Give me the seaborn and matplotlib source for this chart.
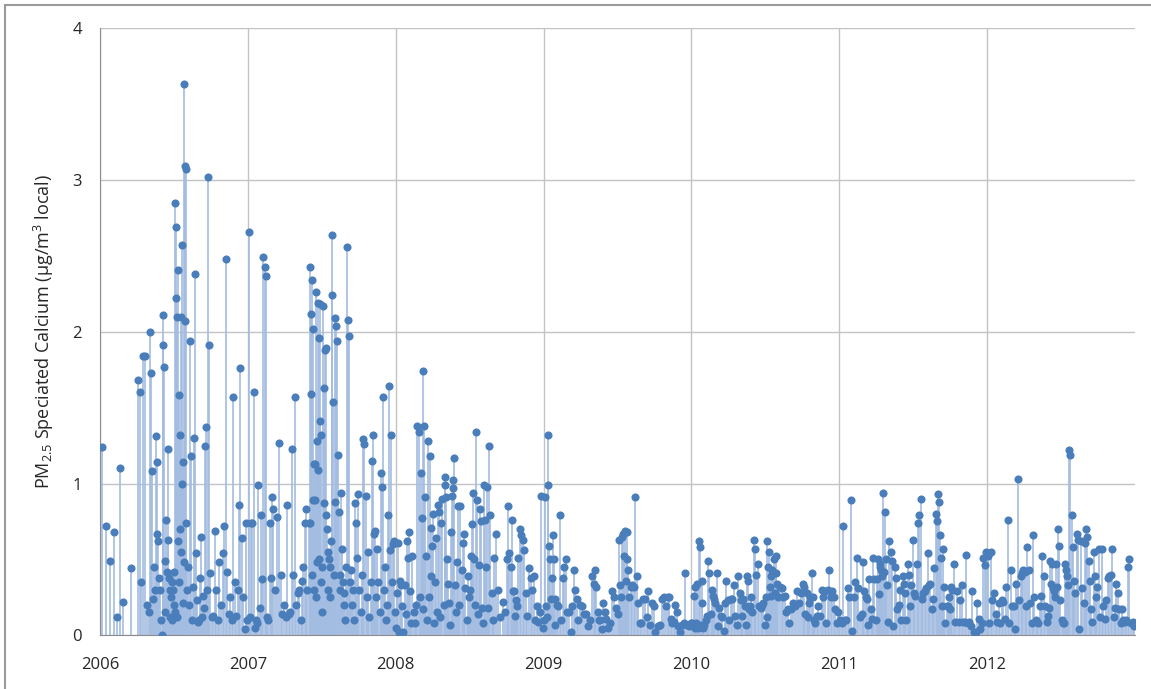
import numpy as np
import pandas as pd
import matplotlib
matplotlib.use("Agg")
import matplotlib.pyplot as plt
from matplotlib.patches import Rectangle
import seaborn as sns

# PM2.5 speciated calcium (ug/m3 local).
# one inner list per month, samples in time order within the month
ca_2006 = [
    [1.24, 0.72, 0.49],
    [0.68, 0.12, 1.10, 0.22],
    [0.44],
    [1.68, 1.60, 0.35, 1.84, 1.84, 0.20, 0.15],
    [2.00, 1.73, 1.08, 0.24, 0.45, 0.30, 1.31, 1.14, 0.67, 0.62, 0.38, 0.30, 0.10],
    [0.00, 2.11, 1.91, 1.77, 0.15, 0.49, 0.76, 0.42, 1.23, 0.63, 0.38, 0.30, 0.12, 0.25, 0.35, 0.10, 0.30, 0.20],
    [0.42, 0.15, 2.85, 2.69, 2.22, 0.12, 2.10, 2.41, 0.62, 0.35, 1.58, 1.32, 0.70, 2.10, 0.55, 1.00, 2.57, 0.21,
     1.14, 0.48, 3.63, 3.09, 2.07, 3.07, 0.74],
    [0.30, 0.45, 0.20, 1.94, 1.18, 0.10, 0.32, 1.30, 2.38, 0.54, 0.23, 0.09],
    [0.10, 0.38, 0.65, 0.12, 0.26, 0.18, 1.25, 1.37, 0.30, 3.02, 1.91, 0.41],
    [0.12, 0.13, 0.69, 0.30, 0.10, 0.48, 0.20, 0.54],
    [0.72, 2.48, 0.42, 0.14, 0.25, 0.10, 1.57, 0.35],
    [0.13, 0.30, 0.86, 1.76, 0.64, 0.25, 0.04, 0.74, 0.10],
]

ca_2007 = [
    [2.66, 0.12, 0.74, 0.74, 1.60, 0.05, 0.10, 0.08, 0.99, 0.18],
    [0.79, 0.37, 2.49, 2.43, 2.37, 0.12, 0.10, 0.74, 0.38, 0.91],
    [0.83, 0.30, 0.78, 1.27, 0.40, 0.14, 0.20],
    [0.12, 0.86, 0.14, 0.15, 1.23, 0.40, 1.57, 0.20],
    [0.28, 0.30, 0.10, 0.36, 0.45, 0.74, 0.83, 0.30, 0.74],
    [2.43, 0.74, 2.12, 1.59, 0.40, 2.34, 0.89, 2.02, 1.13, 0.30, 0.89, 1.13, 0.25, 2.26, 1.28, 0.48, 2.19, 1.09,
     1.96, 0.50, 1.41, 2.18, 0.35, 1.32, 0.15],
    [0.45, 2.17, 0.87, 1.63, 1.88, 0.79, 1.89, 0.70, 0.55, 0.30, 0.50, 0.25, 0.45, 0.62, 2.64, 2.24, 1.54, 0.40],
    [0.88, 2.09, 2.04, 1.94, 1.19, 0.81, 0.40, 0.30, 0.94, 0.57, 0.35, 0.20, 0.28, 0.10, 0.45],
    [2.56, 2.08, 1.97, 0.35, 0.43, 0.20, 0.30, 0.10, 0.87, 0.74, 0.51, 0.93],
    [0.30, 0.15, 0.40, 1.29, 1.26, 0.92, 0.25, 0.55, 0.12, 0.35],
    [1.15, 1.32, 0.67, 0.69, 0.25, 0.57, 0.35, 0.15, 1.07, 0.98, 1.57],
    [0.30, 0.45, 0.10, 0.20, 0.79, 1.64, 0.56, 1.32, 0.35, 0.60, 0.62, 0.15],
]

ca_2008 = [
    [0.05, 0.28, 0.61, 0.02, 0.36, 0.33, 0.19, 0.02, 0.33, 0.14, 0.62, 0.51],
    [0.68, 0.29, 0.08, 0.52, 0.15, 0.08, 0.20, 1.38, 1.34, 0.25],
    [1.07, 0.77, 0.17, 1.74, 1.38, 0.91, 0.52, 0.10, 1.28, 0.25, 1.18, 0.71, 0.39, 0.59],
    [0.80, 0.08, 0.35, 0.64, 0.15, 0.86, 0.81, 0.12, 0.74, 0.90, 0.20, 1.04],
    [0.99, 0.91, 0.50, 0.34, 0.21, 0.07, 0.68, 0.92, 1.02, 0.97, 1.17, 0.33, 0.15, 0.48],
    [0.85, 0.20, 0.85, 0.43, 0.61, 0.67, 0.31, 0.10, 0.39, 0.25],
    [0.30, 0.52, 0.73, 0.94, 0.50, 0.20, 1.34, 0.89, 0.14, 0.46, 0.83, 0.75, 0.18],
    [0.08, 0.99, 0.76, 0.45, 0.98, 0.18, 1.25, 0.79, 0.28, 0.10, 0.51],
    [0.67, 0.30, 0.12, 0.22, 0.15],
    [0.50, 0.85, 0.54, 0.45, 0.76, 0.29, 0.29, 0.13, 0.23, 0.19, 0.51],
    [0.70, 0.66, 0.63, 0.56, 0.28, 0.13, 0.44, 0.38],
    [0.30, 0.39, 0.10, 0.19, 0.09, 0.15, 0.92, 0.05],
]

ca_2009 = [
    [0.10, 0.91, 0.19, 0.12, 1.32, 0.99, 0.59, 0.50, 0.24, 0.38, 0.66, 0.50, 0.24, 0.07],
    [0.20, 0.19, 0.79, 0.10, 0.38, 0.45, 0.50, 0.15],
    [0.15, 0.02, 0.19, 0.43, 0.30, 0.24, 0.10, 0.20],
    [0.19, 0.14, 0.14, 0.06, 0.10, 0.39],
    [0.34, 0.43, 0.32, 0.15, 0.10, 0.10, 0.04, 0.21, 0.15],
    [0.11, 0.05, 0.08, 0.29, 0.25, 0.18],
    [0.14, 0.63, 0.33, 0.25, 0.65, 0.67, 0.52, 0.69, 0.36, 0.68, 0.50, 0.43, 0.25],
    [0.32, 0.33, 0.32, 0.91, 0.39, 0.21, 0.08, 0.08],
    [0.24, 0.24, 0.12, 0.29, 0.07, 0.21, 0.19],
    [0.02, 0.06, 0.07, 0.24, 0.25, 0.19],
    [0.25, 0.25, 0.11, 0.08, 0.09, 0.20, 0.15, 0.06],
    [0.02, 0.07, 0.08, 0.41, 0.07, 0.06, 0.08],
]

ca_2010 = [
    [0.08, 0.06, 0.26, 0.05, 0.32, 0.08, 0.34, 0.05, 0.62, 0.58, 0.07, 0.36, 0.21, 0.05],
    [0.07, 0.10, 0.13, 0.49, 0.41, 0.14, 0.30, 0.26, 0.24, 0.21],
    [0.41, 0.06, 0.18, 0.13, 0.12, 0.03, 0.21, 0.36, 0.23],
    [0.10, 0.24, 0.24, 0.33, 0.13, 0.07, 0.39, 0.28],
    [0.23, 0.13, 0.24, 0.19, 0.07, 0.39, 0.36, 0.17, 0.19, 0.25, 0.15],
    [0.63, 0.57, 0.40, 0.47, 0.19, 0.18, 0.20, 0.21, 0.07],
    [0.25, 0.12, 0.62, 0.45, 0.55, 0.32, 0.39, 0.26, 0.43, 0.41, 0.50, 0.28, 0.52, 0.41, 0.34],
    [0.25, 0.32, 0.31, 0.25, 0.26, 0.15, 0.17, 0.08],
    [0.17, 0.21, 0.19, 0.29, 0.21, 0.28],
    [0.34, 0.32, 0.14, 0.28, 0.12, 0.21, 0.25, 0.41, 0.25, 0.10],
    [0.08, 0.13, 0.19, 0.13, 0.30, 0.25, 0.29, 0.08],
    [0.30, 0.43, 0.25, 0.29, 0.25, 0.17, 0.08, 0.15],
]

ca_2011 = [
    [0.10, 0.08, 0.72, 0.10, 0.10, 0.31, 0.25, 0.89],
    [0.03, 0.25, 0.35, 0.51, 0.31, 0.12, 0.14, 0.48],
    [0.29, 0.25, 0.24, 0.07, 0.37, 0.17, 0.11, 0.51, 0.37, 0.10],
    [0.37, 0.50, 0.27, 0.47, 0.45, 0.43, 0.39, 0.94, 0.42, 0.81, 0.50, 0.33, 0.09],
    [0.62, 0.55, 0.49, 0.06, 0.45, 0.38, 0.17, 0.20, 0.30],
    [0.10, 0.39, 0.34, 0.28, 0.10, 0.47, 0.40, 0.19, 0.33, 0.63],
    [0.28, 0.26, 0.47, 0.74, 0.79, 0.90, 0.24, 0.28, 0.29],
    [0.31, 0.54, 0.33, 0.34, 0.17, 0.24, 0.44, 0.80, 0.75],
    [0.93, 0.88, 0.66, 0.51, 0.19, 0.57, 0.32, 0.08, 0.19, 0.19, 0.25, 0.17],
    [0.32, 0.30, 0.47, 0.09, 0.29, 0.09, 0.23, 0.33],
    [0.09, 0.09, 0.53, 0.08, 0.09, 0.06, 0.29, 0.02],
    [0.02, 0.21, 0.11, 0.04, 0.08, 0.51, 0.46, 0.55],
]

ca_2012 = [
    [0.52, 0.08, 0.55, 0.23, 0.28, 0.14, 0.09, 0.21],
    [0.08, 0.23, 0.22, 0.11, 0.32, 0.76, 0.08, 0.43],
    [0.19, 0.19, 0.04, 0.34, 1.03, 0.23, 0.39, 0.41, 0.43],
    [0.42, 0.19, 0.58, 0.43, 0.21, 0.08, 0.66, 0.25, 0.10],
    [0.09, 0.08, 0.19, 0.26, 0.52, 0.39, 0.19, 0.09, 0.13],
    [0.18, 0.49, 0.34, 0.47, 0.31, 0.29, 0.25, 0.47, 0.32, 0.70, 0.59, 0.23],
    [0.10, 0.08, 0.08, 0.47, 0.43, 0.39, 0.33, 1.22, 1.19, 0.79, 0.58],
    [0.36, 0.28, 0.67, 0.63, 0.04, 0.62, 0.31, 0.21, 0.61],
    [0.70, 0.65, 0.49, 0.36, 0.17, 0.09, 0.55, 0.39, 0.25, 0.32],
    [0.57, 0.12, 0.57, 0.19, 0.11, 0.23, 0.38, 0.39],
    [0.40, 0.57, 0.12, 0.18, 0.34, 0.28, 0.17, 0.08, 0.17],
    [0.10, 0.09, 0.10, 0.45, 0.50, 0.08, 0.09, 0.06],
]

years = [2006, 2007, 2008, 2009, 2010, 2011, 2012]
year_data = [ca_2006, ca_2007, ca_2008, ca_2009, ca_2010, ca_2011, ca_2012]
year_labels = ["2006", "2007", "2008", "2009", "2010", "2011", "2012"]

# spread each month's samples over that month (decimal years)
rows = []
for year, months in zip(years, year_data):
    for m, vals in enumerate(months):
        n = len(vals)
        for i, v in enumerate(vals):
            rows.append((year + (m + (i + 0.5) / n) / 12, v))
df = pd.DataFrame(rows, columns=["date", "calcium"])

sns.set_style("white")
plt.rcParams["font.family"] = ["Open Sans", "DejaVu Sans"]

fig, ax = plt.subplots(figsize=(11.51, 6.89), dpi=100)
fig.subplots_adjust(left=0.087, right=0.986, bottom=0.078, top=0.959)

# drop lines from zero to each sample
ax.vlines(df["date"], 0, df["calcium"], color="#a3bce1", linewidth=1.2, zorder=2)
sns.scatterplot(data=df, x="date", y="calcium", color="#4a7ebb", s=34,
                linewidth=0, ax=ax, zorder=3, legend=False)

ax.set_xlim(2006, 2013)
ax.set_ylim(0, 4)
ax.set_xticks(years)
ax.set_xticklabels(year_labels)
ax.set_yticks([0, 1, 2, 3, 4])

ax.grid(True, color="#c3c3c3", linewidth=1)
ax.set_axisbelow(True)
for side in ["top", "right"]:
    ax.spines[side].set_visible(False)
for side in ["left", "bottom"]:
    ax.spines[side].set_color("#8c8c8c")

ax.tick_params(axis="x", length=6, color="#8c8c8c", labelsize=12, pad=10)
ax.tick_params(axis="y", length=6, color="#8c8c8c", labelsize=12, pad=7)

ax.set_xlabel("")
ax.set_ylabel("PM$_{\\mathregular{2.5}}$ Speciated Calcium (µg/m$^{\\mathregular{3}}$ local)",
              fontsize=13, labelpad=12)

# thin frame round the chart, inset a little at the left and top
fig.patches.append(Rectangle((5 / 1151, -0.01), 1.02, 1 - 5 / 689 + 0.01, transform=fig.transFigure,
                             fill=False, edgecolor="#9a9a9a", linewidth=1.5))

fig.savefig("out.png", dpi=100)
